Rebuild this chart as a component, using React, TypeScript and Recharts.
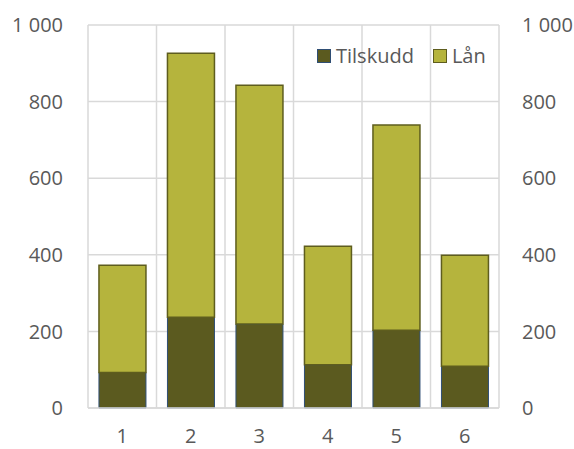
import React from "react";
import {
  BarChart,
  Bar,
  Line,
  XAxis,
  YAxis,
  CartesianGrid,
} from "recharts";

const categories = ["1", "2", "3", "4", "5", "6"];
const tilskudd = [93, 237, 219, 113, 203, 109];
const laan = [280, 689, 624, 309, 536, 290];
const yTicks = [0, 200, 400, 600, 800, 1000];

const data = categories.map((c, i) => ({
  name: c,
  Tilskudd: tilskudd[i],
  Lån: laan[i],
}));

const FONT = "'Open Sans', sans-serif";
const TEXT = "#595959";
const GRID = "#D9D9D9";
const DARK = "#5B5A1F";
const LIGHT = "#B5B43D";

const fmt = (v: number) => (v >= 1000 ? "1 000" : String(v));

function LegendBox() {
  const items = [
    { label: "Tilskudd", fill: DARK, stroke: "#2F4E74" },
    { label: "Lån", fill: LIGHT, stroke: "#5E5D1E" },
  ];
  return (
    <div
      style={{
        position: "absolute",
        left: 317,
        top: 41,
        display: "flex",
        gap: 19,
        alignItems: "center",
        fontFamily: FONT,
        fontSize: 20,
        color: TEXT,
        lineHeight: "30px",
      }}
    >
      {items.map((it) => (
        <div key={it.label} style={{ display: "flex", alignItems: "center", gap: 5 }}>
          <span
            style={{
              display: "inline-block",
              width: 12,
              height: 12,
              background: it.fill,
              border: `1.5px solid ${it.stroke}`,
            }}
          />
          <span>{it.label}</span>
        </div>
      ))}
    </div>
  );
}

export default function App() {
  return (
    <div style={{ position: "absolute", left: 0, top: 0, width: 574, height: 449, background: "#fff" }}>
      <BarChart
        width={574}
        height={449}
        data={data}
        margin={{ top: 25, right: 0, bottom: 0, left: 0 }}
        barCategoryGap="16%"
      >
        <CartesianGrid
          yAxisId="left"
          stroke={GRID}
          strokeWidth={1.5}
          verticalCoordinatesGenerator={({ offset }: any) =>
            categories
              .map((_, i) => offset.left + (i * offset.width) / categories.length)
              .concat(offset.left + offset.width)
          }
        />
        <XAxis
          dataKey="name"
          height={41}
          tickSize={0}
          tickMargin={21}
          axisLine={{ stroke: GRID, strokeWidth: 1.5 }}
          tick={{ fill: TEXT, fontSize: 20, fontFamily: FONT }}
        />
        <YAxis
          yAxisId="left"
          width={88}
          domain={[0, 1000]}
          ticks={yTicks}
          tickFormatter={fmt}
          axisLine={false}
          tickLine={false}
          tickSize={0}
          tickMargin={25}
          tick={{ fill: TEXT, fontSize: 20, fontFamily: FONT }}
        />
        <YAxis
          yAxisId="right"
          orientation="right"
          width={75}
          domain={[0, 1000]}
          ticks={yTicks}
          tickFormatter={fmt}
          axisLine={false}
          tickLine={false}
          tickSize={0}
          tickMargin={23}
          tick={{ fill: TEXT, fontSize: 20, fontFamily: FONT, textAnchor: "start" }}
        />
        <Bar
          yAxisId="left"
          dataKey="Tilskudd"
          stackId="a"
          fill={DARK}
          stroke="#2F4E74"
          strokeWidth={1}
          isAnimationActive={false}
        />
        <Bar
          yAxisId="left"
          dataKey="Lån"
          stackId="a"
          fill={LIGHT}
          stroke="#5E5D1E"
          strokeWidth={1.5}
          isAnimationActive={false}
        />
        <Line
          yAxisId="right"
          dataKey="Tilskudd"
          stroke="none"
          dot={false}
          activeDot={false}
          legendType="none"
          isAnimationActive={false}
        />
      </BarChart>
      <LegendBox />
    </div>
  );
}
